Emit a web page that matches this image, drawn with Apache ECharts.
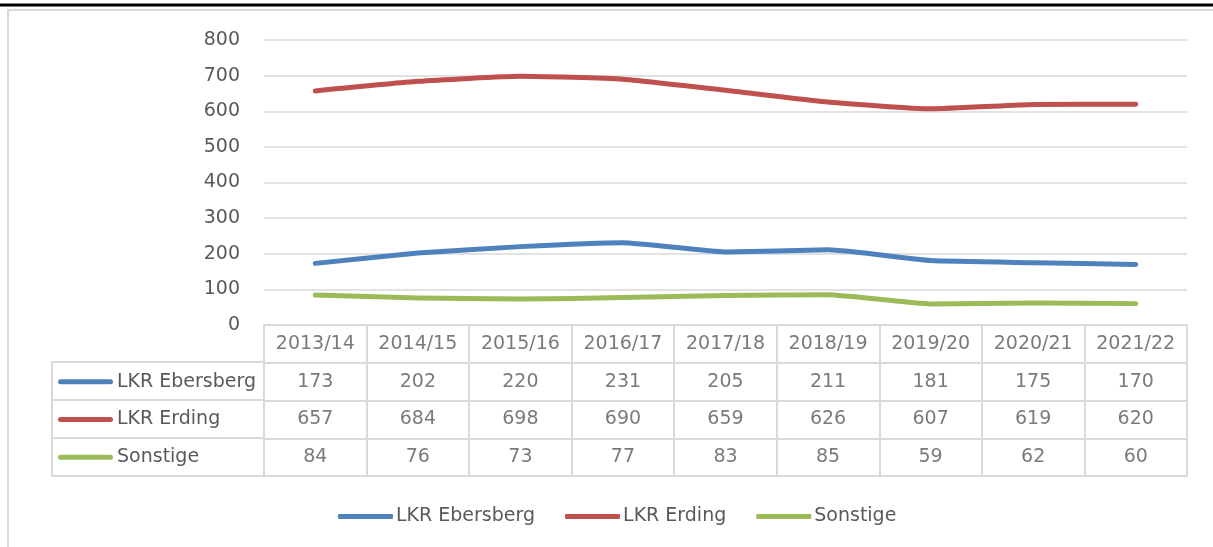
<!DOCTYPE html>
<html>
<head>
<meta charset="utf-8">
<script src="https://cdn.jsdelivr.net/npm/echarts@6/dist/echarts.min.js"></script>
<style>
  html, body { margin: 0; padding: 0; background: #fff; }
  #chart { width: 1213px; height: 547px; }
</style>
</head>
<body>
<div id="chart"></div>
<script>
// Schuljahre
var years = ['2013/14', '2014/15', '2015/16', '2016/17', '2017/18', '2018/19', '2019/20', '2020/21', '2021/22'];

// Werte je Herkunft
var ebersberg = [173, 202, 220, 231, 205, 211, 181, 175, 170];
var erding = [657, 684, 698, 690, 659, 626, 607, 619, 620];
var sonstige = [84, 76, 73, 77, 83, 85, 59, 62, 60];

var seriesNames = ['LKR Ebersberg', 'LKR Erding', 'Sonstige'];
var seriesColors = ['#4f81bd', '#c0504d', '#9bbb59'];
var yTicks = { min: 0, max: 800, step: 100 };

var textColor = '#595959';
var gridColor = '#d9d9d9';
var font = 'DejaVu Sans';

(() => {
    var allValues = [ebersberg, erding, sonstige];

    // Zeilen der Datentabelle (erste Zeile = Kopfzeile mit Jahren)
    var rows = ['head'].concat(seriesNames);

    // Zellen der Tabelle: [spalte, zeile, text]
    var cells = [];
    years.forEach((y, i) => {
        cells.push([i, 0, y]);
        allValues.forEach((vals, s) => cells.push([i, s + 1, String(vals[i])]));
    });

    var rich = { t: { fontSize: 19, fontFamily: font, color: textColor, padding: [0, 0, 0, 4] } };
    seriesColors.forEach((c, i) => {
        rich['ic' + i] = { width: 55, height: 5, backgroundColor: c, borderRadius: 3 };
    });

    var lineSeries = seriesNames.map((name, i) => ({
        name: name,
        type: 'line',
        xAxisIndex: 0,
        yAxisIndex: 0,
        data: allValues[i],
        showSymbol: false,
        symbol: 'none',
        smooth: 0.15,
        color: seriesColors[i],
        lineStyle: { width: 5, cap: 'round', join: 'round', color: seriesColors[i] },
        z: 3
    }));

    // Rahmen der linken Tabellenspalte
    var tableLeft = 52, gridLeft = 264, rowTops = [362, 400, 438, 476];
    var leftCol = [{
        type: 'line',
        shape: { x1: tableLeft, y1: rowTops[0], x2: tableLeft, y2: rowTops[3] },
        style: { stroke: gridColor, lineWidth: 2 }
    }].concat(rowTops.map(y => ({
        type: 'line',
        shape: { x1: tableLeft, y1: y, x2: gridLeft, y2: y },
        style: { stroke: gridColor, lineWidth: 2 }
    })));

    var option = {
        animation: false,
        backgroundColor: '#fff',
        textStyle: { fontFamily: font },
        graphic: [
            { type: 'line', shape: { x1: 0, y1: 5, x2: 1213, y2: 5 }, style: { stroke: '#000', lineWidth: 3 } },
            { type: 'rect', shape: { x: 8, y: 10, width: 1220, height: 560 }, style: { fill: 'none', stroke: gridColor, lineWidth: 2 } }
        ].concat(leftCol),
        legend: {
            data: seriesNames,
            left: 333,
            top: 502,
            icon: 'roundRect',
            itemWidth: 55,
            itemHeight: 5,
            itemGap: 30,
            textStyle: { fontSize: 19, fontFamily: font, color: textColor, padding: [0, 0, 0, -2] }
        },
        grid: [
            { left: gridLeft, right: 26, top: 40, height: 285 },
            { left: gridLeft, right: 26, top: 325, height: 151 }
        ],
        xAxis: [{
            type: 'category',
            gridIndex: 0,
            data: years,
            boundaryGap: true,
            axisLine: { show: false },
            axisTick: { show: false },
            axisLabel: { show: false }
        }, {
            type: 'category',
            gridIndex: 1,
            data: years,
            boundaryGap: true,
            axisLine: { show: true, lineStyle: { color: gridColor, width: 2 } },
            axisTick: { show: false },
            axisLabel: { show: false },
            splitLine: { show: true, lineStyle: { color: gridColor, width: 2 } }
        }],
        yAxis: [{
            type: 'value',
            gridIndex: 0,
            min: yTicks.min,
            max: yTicks.max,
            interval: yTicks.step,
            axisLine: { show: false },
            axisTick: { show: false },
            axisLabel: { color: textColor, fontSize: 19, fontFamily: font, margin: 24 },
            splitLine: { lineStyle: { color: gridColor, width: 1.5 } }
        }, {
            type: 'category',
            gridIndex: 1,
            data: rows,
            inverse: true,
            boundaryGap: true,
            axisLine: { show: true, lineStyle: { color: gridColor, width: 2 } },
            axisTick: { show: false },
            axisLabel: {
                align: 'left',
                margin: 206,
                formatter: (v, i) => i === 0 ? '' : '{ic' + (i - 1) + '|}{t|' + v + '}',
                rich: rich
            },
            splitLine: { show: true, lineStyle: { color: gridColor, width: 2 } }
        }],
        series: lineSeries.concat([{
            name: 'Tabelle',
            type: 'scatter',
            xAxisIndex: 1,
            yAxisIndex: 1,
            data: cells,
            symbolSize: 0,
            silent: true,
            label: {
                show: true,
                position: 'inside',
                formatter: p => p.value[2],
                fontSize: 19,
                fontFamily: font,
                color: textColor
            }
        }])
    };

    var myChart = echarts.init(document.getElementById('chart'));
    myChart.setOption(option);
})();
</script>
</body>
</html>
